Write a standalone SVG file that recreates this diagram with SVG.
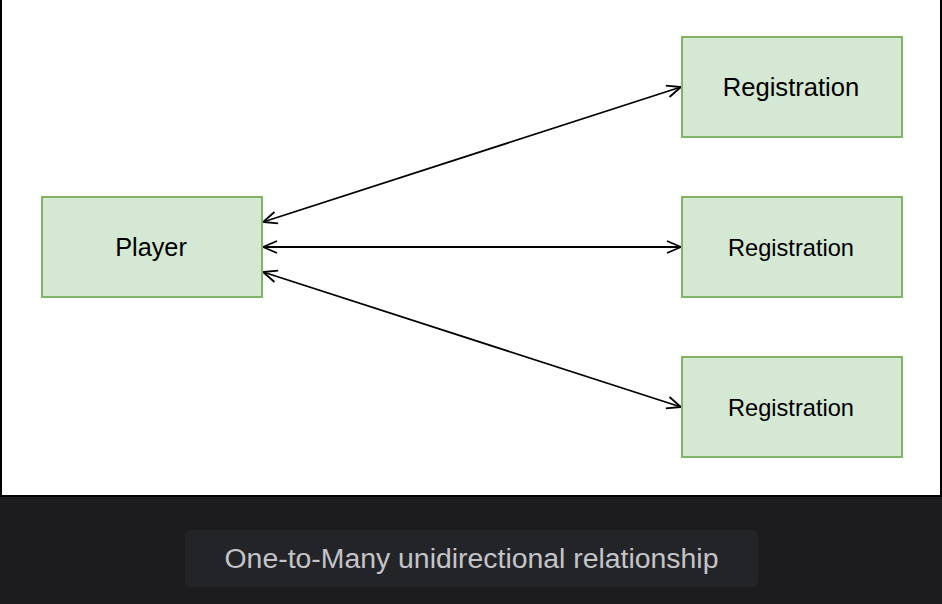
<svg xmlns="http://www.w3.org/2000/svg" width="942" height="604" viewBox="0 0 942 604">
<style>
.box{fill:#d5e8d4;stroke:#82b366;stroke-width:2}
.lbl{font-family:"Liberation Sans",Arial,sans-serif;fill:#000;text-anchor:middle}
.edge{stroke:#000;stroke-width:1.8;fill:none;marker-start:url(#ah);marker-end:url(#ah)}
</style>
<defs>
<marker id="ah" viewBox="0 0 16 16" refX="15" refY="8" markerWidth="16" markerHeight="16" markerUnits="userSpaceOnUse" orient="auto-start-reverse">
<path d="M1,2 L15,8 L1,14" fill="none" stroke="#000" stroke-width="1.8"/>
</marker>
</defs>
<rect x="0" y="0" width="942" height="604" fill="#1c1c1e"/>
<rect x="1" y="-2" width="940" height="498" fill="#fff" stroke="#000" stroke-width="2"/>
<g id="connectors">
<line class="edge" x1="263" y1="222" x2="681" y2="87"/>
<line class="edge" x1="263" y1="247" x2="681" y2="247"/>
<line class="edge" x1="263" y1="272" x2="681" y2="407"/>
</g>
<g id="player">
<rect class="box" x="42" y="197" width="220" height="100"/>
<text class="lbl" x="151" y="256" font-size="25.3">Player</text>
</g>
<g id="registration1">
<rect class="box" x="682" y="37" width="220" height="100"/>
<text class="lbl" x="791" y="96" font-size="25.6">Registration</text>
</g>
<g id="registration2">
<rect class="box" x="682" y="197" width="220" height="100"/>
<text class="lbl" x="791" y="255.5" font-size="23.6">Registration</text>
</g>
<g id="registration3">
<rect class="box" x="682" y="357" width="220" height="100"/>
<text class="lbl" x="791" y="415.5" font-size="23.6">Registration</text>
</g>
<g id="caption">
<rect x="185" y="530" width="573" height="57" rx="5" fill="#232428"/>
<text x="471.5" y="568" font-family="'Liberation Sans',Arial,sans-serif" font-size="28.4" fill="#c4c4c8" text-anchor="middle">One-to-Many unidirectional relationship</text>
</g>
</svg>
